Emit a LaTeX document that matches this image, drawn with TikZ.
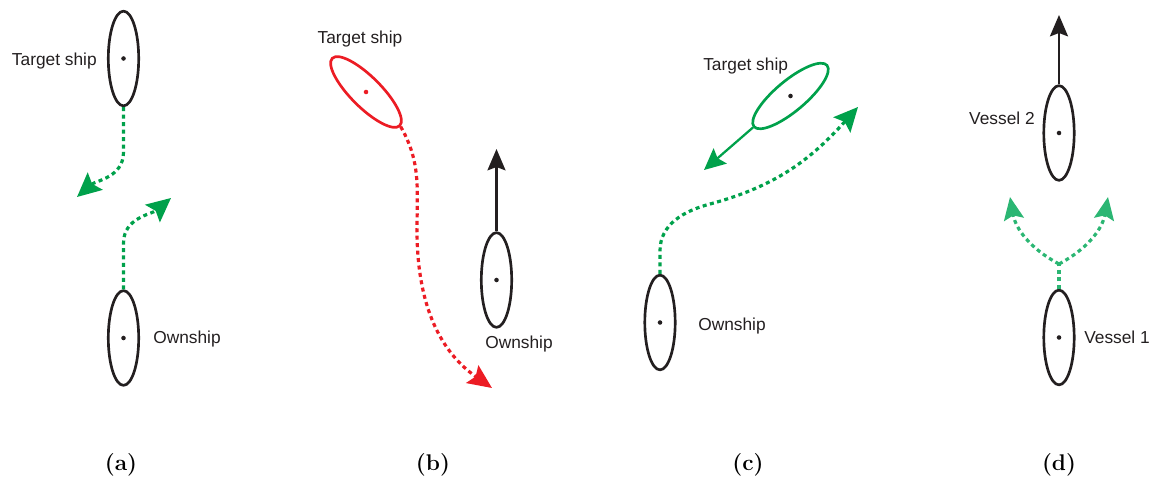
\documentclass[tikz,border=0pt]{standalone}
\usepackage{fontspec}
\setmainfont{Latin Modern Roman}
\newfontfamily\labelfont{Liberation Sans}
\usetikzlibrary{shapes.geometric,arrows.meta}

\definecolor{inkblack}{HTML}{231F20}
\definecolor{pathgreen}{HTML}{00A14B}
\definecolor{forkgreen}{HTML}{2BB673}
\definecolor{pathred}{HTML}{EC1C24}

\tikzset{
  ship/.style={ellipse, draw=inkblack, line width=2pt, inner sep=0pt,
               minimum width=22.8pt, minimum height=71pt},
  tilted/.style={ellipse, line width=2pt, inner sep=0pt,
               minimum width=71.5pt, minimum height=22.8pt},
  shiplabel/.style={inner sep=0pt, text=inkblack,
               font=\labelfont\fontsize{13}{15}\selectfont},
  caption/.style={inner sep=0pt, text=black,
               font=\bfseries\fontsize{17}{20}\selectfont},
  heading/.style={line width=1.8pt, draw=inkblack,
               -{Stealth[length=16pt,width=13.5pt,inset=2.5pt]}},
  course/.style={line width=2.4pt, dash pattern=on 3pt off 2.6pt,
               -{Stealth[length=18pt,width=17pt,inset=3pt]}},
  hub/.style={circle, fill, inner sep=0pt, minimum size=3.4pt}
}

\begin{document}
\begin{tikzpicture}[x=0.75pt, y=-0.75pt]
\useasboundingbox (0,0) rectangle (1153,478);

% ---------------- (a) head-on ----------------
\node[ship] (ta) at (123.5,58.5) {};
\node[ship] (oa) at (123.5,338) {};
\node[hub, inkblack] (tac) at (ta.center) {};
\node[hub, inkblack] (oac) at (oa.center) {};
\node[shiplabel, anchor=east] (tal) at (97,61) {Target ship};
\node[shiplabel, anchor=west] (oal) at (153,339) {Ownship};
\coordinate (aTipL) at (77,197);
\coordinate (aTipR) at (171,198);
\draw[course, pathgreen] (ta.south) -- ++(0,45) to[out=-90,in=41] (aTipL);
\draw[course, pathgreen] (oa.north) -- ++(0,-46) to[out=90,in=220] (aTipR);
\node[caption] (capa) at (121,465) {(a)};

% ---------------- (b) crossing, target gives way ----------------
\node[tilted, draw=pathred, rotate=-45] (tb) at (366,92) {};
\node[ship] (ob) at (496.5,280) {};
\node[hub, pathred] (tbc) at (tb.center) {};
\node[hub, inkblack] (obc) at (ob.center) {};
\node[shiplabel] (tbl) at (360,39) {Target ship};
\node[shiplabel, anchor=west] (obl) at (485,344) {Ownship};
\coordinate (bTip) at (496.5,149);
\coordinate (bBend) at (417,230);
\coordinate (bTipR) at (492,388);
\draw[heading] (ob.north) -- (bTip);
\draw[course, pathred, -{Stealth[length=18pt,width=16pt,inset=3pt]}]
  (tb.east) to[out=-60,in=90] (bBend) to[out=-90,in=145] (bTipR);
\node[caption] (capb) at (433,465) {(b)};

% ---------------- (c) crossing, ownship gives way ----------------
\node[tilted, draw=pathgreen, rotate=40] (tc) at (790.5,96) {};
\node[ship] (oc) at (660,322.5) {};
\node[hub, inkblack] (tcc) at (tc.center) {};
\node[hub, inkblack] (occ) at (oc.center) {};
\node[shiplabel, anchor=west] (tcl) at (703,66) {Target ship};
\node[shiplabel, anchor=west] (ocl) at (698,326) {Ownship};
\coordinate (cTip) at (704,170);
\coordinate (cBend) at (710,204);
\coordinate (cTipR) at (858,107);
\draw[heading, draw=pathgreen, line width=1.7pt,
      -{Stealth[length=16pt,width=15pt,inset=2.5pt]}] (tc.west) -- (cTip);
\draw[course, pathgreen] (oc.north) -- ++(0,-23) to[out=90,in=195] (cBend)
  to[out=15,in=228] (cTipR);
\node[caption] (capc) at (748,465) {(c)};

% ---------------- (d) overtaking ----------------
\node[ship] (v2) at (1059,133) {};
\node[ship] (v1) at (1059,337.5) {};
\node[hub, inkblack] (v2c) at (v2.center) {};
\node[hub, inkblack] (v1c) at (v1.center) {};
\node[shiplabel, anchor=east] (v2l) at (1035,118) {Vessel 2};
\node[shiplabel, anchor=west] (v1l) at (1084,337) {Vessel 1};
\coordinate (dTip) at (1059,15);
\coordinate (dJoin) at (1059,264);
\coordinate (dTipL) at (1010,197);
\coordinate (dTipR) at (1108,197);
\draw[heading] (v2.north) -- (dTip);
\draw[course, forkgreen, -] (v1.north) -- (dJoin);
\draw[course, forkgreen, -{Stealth[length=17pt,width=15pt,inset=3pt]}]
  (dJoin) to[out=152,in=-80] (dTipL);
\draw[course, forkgreen, -{Stealth[length=17pt,width=15pt,inset=3pt]}]
  (dJoin) to[out=28,in=-100] (dTipR);
\node[caption] (capd) at (1059,465) {(d)};
\end{tikzpicture}
\end{document}
